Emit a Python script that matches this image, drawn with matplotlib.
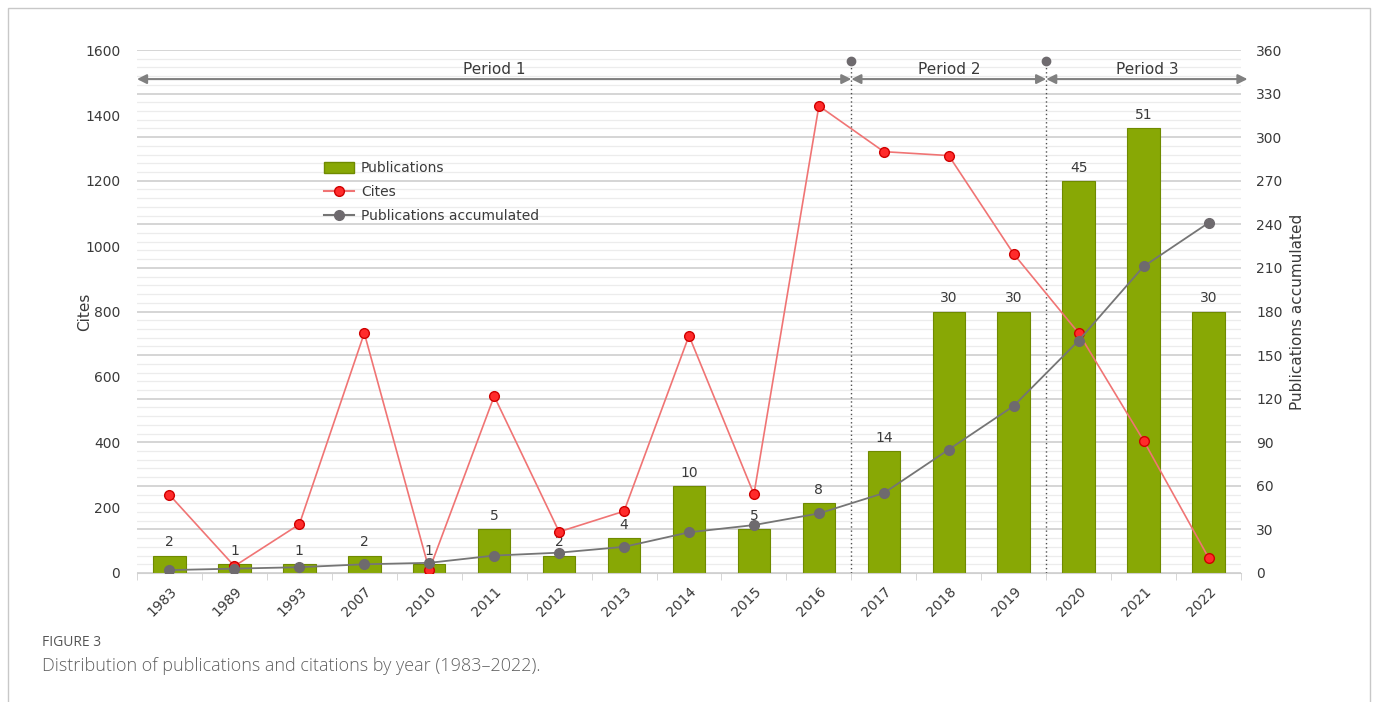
import matplotlib
matplotlib.use("Agg")
import matplotlib.pyplot as plt
from matplotlib.lines import Line2D
from matplotlib.patches import Patch, Rectangle
import numpy as np

# data
years = ["1983", "1989", "1993", "2007", "2010", "2011", "2012", "2013", "2014",
         "2015", "2016", "2017", "2018", "2019", "2020", "2021", "2022"]
publications = [2, 1, 1, 2, 1, 5, 2, 4, 10, 5, 8, 14, 30, 30, 45, 51, 30]
cites = [239, 21, 149, 734, 9, 541, 126, 189, 726, 241, 1429, 1289, 1277, 976, 734, 405, 47]
pubs_accum = [2, 3, 4, 6, 7, 12, 14, 18, 28, 33, 41, 55, 85, 115, 160, 211, 241]

periods = ["Period 1", "Period 2", "Period 3"]
period_bounds = [-0.5, 10.5, 13.5, 16.6]

green = "#88a805"
red_line = "#f07474"
gray = "#757575"
txt = "#3a3a3a"

plt.rcParams["font.family"] = ["DejaVu Sans"]

fig = plt.figure(figsize=(13.75, 7.02), dpi=100)
ax = fig.add_axes([137 / 1375, 1 - 573 / 702, (1241 - 137) / 1375, (573 - 50) / 702])
x = np.arange(len(years))

# bars on a hidden 0-60 scale, gridlines follow the right-hand axis (6 and 30 steps)
ax.bar(x, publications, 0.5, color=green, edgecolor="#6f8a00", linewidth=0.8, zorder=2)
for xi, v in zip(x, publications):
    ax.text(xi, v + 0.7, str(v), ha="center", va="bottom", fontsize=10, color=txt)
ax.set_ylim(0, 60)
ax.set_xlim(-0.5, 16.5)
ax.set_yticks(np.arange(0, 61, 5))
ax.set_yticks(np.arange(0, 61, 1), minor=True)
ax.grid(axis="y", which="major", color="#d2d2d2", linewidth=1.3)
ax.grid(axis="y", which="minor", color="#ececec", linewidth=0.9)
ax.set_axisbelow(True)
for s in ["top", "left", "right"]:
    ax.spines[s].set_visible(False)
ax.spines["bottom"].set_color("#d0d0d0")
ax.set_xticks(x)
ax.set_xticklabels(years, rotation=45, ha="right", rotation_mode="anchor", fontsize=10, color=txt)
ax.set_xticks(np.arange(-0.5, 17, 1), minor=True)
ax.tick_params(axis="x", which="major", length=0, pad=8)
ax.tick_params(axis="x", which="minor", length=5, color="#d0d0d0")

# cites on the left axis
ax2 = ax.twinx()
ax2.plot(x, cites, color=red_line, linewidth=1.2, marker="o", markersize=7,
         markerfacecolor="#ff2b2b", markeredgecolor="#d00000", markeredgewidth=1, zorder=4)
ax2.set_ylim(0, 1600)
ax2.set_yticks(np.arange(0, 1601, 200))
ax2.yaxis.tick_left()
ax2.yaxis.set_label_position("left")
ax2.tick_params(axis="y", length=0, pad=12, labelsize=10, labelcolor=txt)
ax2.set_ylabel("Cites", fontsize=11, color=txt)
ax2.yaxis.set_label_coords((92 - 137) / 1104, 0.5)
for s in ax2.spines.values():
    s.set_visible(False)

# period separators and arrows
for b in period_bounds[1:3]:
    ax2.plot([b, b], [0, 1566], color="#505050", linestyle=(0, (1, 2)), linewidth=1, zorder=3)
    ax2.plot([b], [1566], marker="o", markersize=6, color="#6e6a6e", zorder=3)
for i, name in enumerate(periods):
    a, b = period_bounds[i], period_bounds[i + 1]
    ax2.annotate("", xy=(b, 1511), xytext=(a, 1511), annotation_clip=False,
                 arrowprops=dict(arrowstyle="<|-|>", color="#808080", lw=1.5,
                                 shrinkA=0, shrinkB=0, mutation_scale=14))
    ax2.text((a + b) / 2, 1518, name, ha="center", va="bottom", fontsize=11, color=txt)

# accumulated publications on the right axis
ax3 = ax.twinx()
ax3.plot(x, pubs_accum, color=gray, linewidth=1.3, marker="o", markersize=7,
         markerfacecolor="#6e6a6e", markeredgecolor="#6e6a6e", zorder=4)
ax3.set_ylim(0, 360)
ax3.set_yticks(np.arange(0, 361, 30))
ax3.tick_params(axis="y", length=0, pad=11, labelsize=10, labelcolor=txt)
ax3.set_ylabel("Publications accumulated", fontsize=11, color=txt)
ax3.yaxis.set_label_coords((1290 - 137) / 1104, 0.5)
for s in ax3.spines.values():
    s.set_visible(False)

# twinx turns the left ticks of the bar axis back on
ax.tick_params(axis="y", which="both", left=False, right=False, labelleft=False, labelright=False)

handles = [
    Patch(facecolor=green, edgecolor="#6f8a00", label="Publications"),
    Line2D([], [], color=red_line, marker="o", markersize=7, markerfacecolor="#ff2b2b",
           markeredgecolor="#d00000", label="Cites"),
    Line2D([], [], color=gray, marker="o", markersize=7, markerfacecolor="#6e6a6e",
           markeredgecolor="#6e6a6e", label="Publications accumulated"),
]
fig.legend(handles=handles, loc="upper left", bbox_to_anchor=(311 / 1375, 1 - 149 / 702),
           frameon=False, fontsize=10, labelcolor=txt, handlelength=2.2,
           handleheight=0.9, labelspacing=0.72, handletextpad=0.5)

# caption and frame
fig.text(42 / 1375, 1 - 643 / 702, "FIGURE 3", fontsize=10, color="#555555",
         family="Open Sans", va="center")
fig.text(42 / 1375, 1 - 666 / 702, "Distribution of publications and citations by year (1983\u20132022).",
         fontsize=13, color="#606060", family="Open Sans", fontweight="light", va="center")
fig.patches.append(Rectangle((8 / 1375, -0.05), (1370 - 8) / 1375, 1.05 - 8 / 702,
                             transform=fig.transFigure, fill=False, edgecolor="#c8c8c8",
                             linewidth=1, figure=fig))

fig.savefig("out.png", dpi=100)
